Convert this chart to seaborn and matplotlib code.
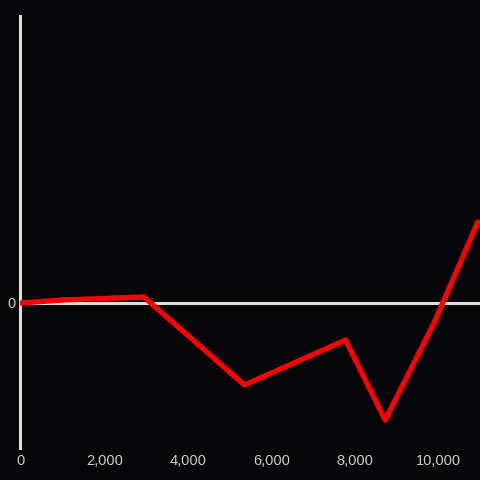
import matplotlib
matplotlib.use("Agg")
import matplotlib.pyplot as plt
import seaborn as sns
import pandas as pd
from matplotlib.ticker import FuncFormatter

x_vals = [0, 1000, 2950, 5360, 7780, 8730, 9900, 10950]
y_vals = [0, 3, 6, -82, -37, -117, -20, 81]
x_ticks = [0, 2000, 4000, 6000, 8000, 10000]

df = pd.DataFrame({"x": x_vals, "y": y_vals})

sns.set_style("dark")
plt.rcParams['font.family'] = ['Liberation Sans', 'DejaVu Sans']

bg = "#050407"
fig = plt.figure(figsize=(4.8, 4.8), dpi=100, facecolor=bg)
ax = fig.add_axes([20/480, 32/480, 460/480, 432/480])
ax.set_facecolor(bg)

ax.axhline(0, color="#dddddd", lw=2.2, zorder=1)
sns.lineplot(data=df, x="x", y="y", color="#ff0000", lw=3.8, ax=ax, zorder=3)

ax.set_xlim(-20, 11000)
ax.set_ylim(-145, 287)
ax.set_xticks(x_ticks)
ax.xaxis.set_major_formatter(FuncFormatter(lambda v, p: f"{int(v):,}"))
ax.set_yticks([0])
ax.tick_params(axis="both", length=0, colors="#cccccc", labelsize=10.5)
ax.tick_params(axis="x", pad=4)
ax.tick_params(axis="y", pad=3)
ax.set_xlabel("")
ax.set_ylabel("")
ax.grid(False)
for s in ["top", "right", "bottom"]:
    ax.spines[s].set_visible(False)
ax.spines["left"].set_color("#dddddd")
ax.spines["left"].set_linewidth(2.2)

fig.savefig("out.png", dpi=100, facecolor=bg)
